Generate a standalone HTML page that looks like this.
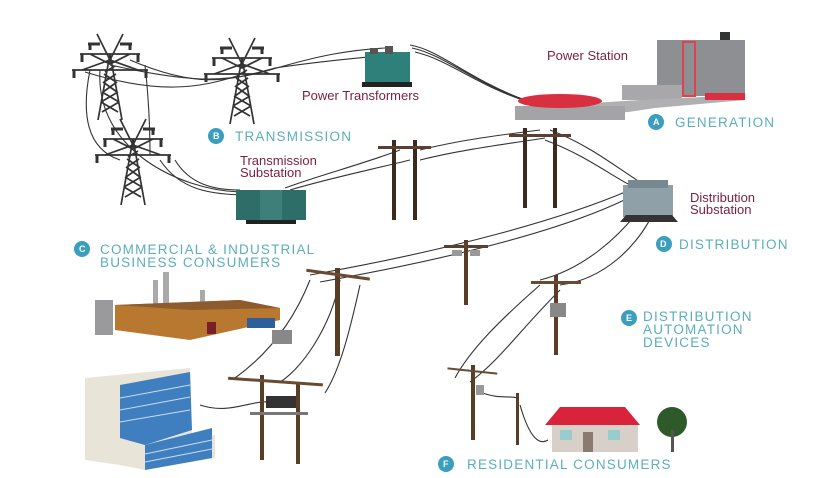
<!DOCTYPE html>
<html><head><meta charset="utf-8"><style>
html,body{margin:0;padding:0;background:#fff;}
svg{display:block;}
.lb{font-family:"Liberation Sans",sans-serif;fill:#7a1f3d;font-size:13px;}
.tl{font-family:"Liberation Sans",sans-serif;fill:#5aaebd;font-size:13.5px;letter-spacing:1.2px;}
.ct{font-family:"Liberation Sans",sans-serif;fill:#fff;font-size:9px;font-weight:bold;}
</style></head><body>
<svg width="819" height="478" viewBox="0 0 819 478" xmlns="http://www.w3.org/2000/svg">
<defs>
<g id="tower" stroke="#333" stroke-width="1.7" fill="none">
<path d="M-12,88 L0,22 L12,88 M-13,2 L0,28 L13,2 M-8,80 L9,70 M-9,70 L8,60 M-7,60 L7,50 M-6,50 L6,42 M8,80 L-9,70 M9,70 L-8,60 M7,60 L-7,50 M6,50 L-6,42 M-5,40 L5,34 M-30,22 L30,22 M-38,38 L38,38 M-5,30 L5,30 M-20,22 L0,32 L20,22 M-28,38 L0,28 L28,38"/>
<path d="M-28,22 v8 M28,22 v8 M-36,38 v8 M36,38 v8 M-22,12 h12 M10,12 h12 M-20,12 v6 M20,12 v6" stroke-width="3"/>
</g>
<g id="pole">
<rect x="-2" y="0" width="4" height="80" fill="#3b2a1e"/>
<rect x="-16" y="6" width="32" height="3" fill="#5a4030"/>
</g>
</defs>

<g stroke="#333" stroke-width="1.1" fill="none">
<path d="M110,65 C180,80 220,85 270,70 C320,55 350,50 385,48"/>
<path d="M130,60 C200,90 230,80 275,68 C330,60 360,58 390,55"/>
<path d="M85,72 C160,95 200,88 240,75"/>
<path d="M90,70 C80,120 90,150 120,160"/>
<path d="M145,65 C150,110 150,140 150,155"/>
<path d="M100,70 C95,150 180,190 240,192"/>
<path d="M175,160 C190,185 215,190 240,190"/>
<path d="M160,160 C180,190 210,195 250,195"/>
<path d="M410,45 C440,50 470,80 525,100"/>
<path d="M412,48 C445,55 475,84 530,102"/>
<path d="M415,52 C450,60 480,88 535,104"/>
<path d="M285,188 C320,175 360,165 400,150"/>
<path d="M290,190 C330,178 370,170 410,160"/>
<path d="M420,150 C460,140 500,135 540,130"/>
<path d="M420,160 C460,150 500,145 545,138"/>
<path d="M550,130 C590,145 620,170 640,182"/>
<path d="M545,140 C585,155 610,175 630,185"/>
<path d="M630,190 C560,220 450,250 310,275"/>
<path d="M640,192 C580,225 470,255 320,282"/>
<path d="M650,195 C620,240 580,270 540,280"/>
<path d="M660,198 C640,250 600,280 560,285"/>
<path d="M540,285 C500,320 470,350 455,378"/>
<path d="M560,290 C520,330 500,360 470,382"/>
<path d="M310,280 C290,330 260,360 235,378"/>
<path d="M340,280 C330,330 300,370 280,382"/>
<path d="M360,285 C350,330 340,370 325,393"/>
<path d="M200,405 C230,415 250,400 270,402"/>
<path d="M480,392 C500,400 510,395 517,398"/>
<path d="M520,405 C530,440 540,445 548,440"/>
</g>

<use href="#tower" x="110" y="32"/>
<use href="#tower" x="242" y="36"/>
<use href="#tower" x="133" y="117"/>

<rect x="365" y="52" width="45" height="30" fill="#2f7f7a"/>
<rect x="370" y="48" width="8" height="6" fill="#555"/><rect x="385" y="46" width="8" height="8" fill="#555"/>
<rect x="362" y="82" width="50" height="5" fill="#222"/>
<text class="lb" x="302" y="100">Power Transformers</text>

<text class="lb" x="547" y="60">Power Station</text>
<rect x="657" y="40" width="88" height="56" fill="#8e8f92"/>
<rect x="683" y="42" width="12" height="54" fill="none" stroke="#e04050" stroke-width="2"/>
<rect x="720" y="32" width="10" height="8" fill="#333"/>
<rect x="622" y="85" width="60" height="15" fill="#a8a8aa"/>
<polygon points="515,108 640,100 745,95 745,100 655,108 628,112 520,120" fill="#b0b0b2"/>
<rect x="515" y="106" width="110" height="14" fill="#a4a4a6"/>
<ellipse cx="560" cy="101" rx="42" ry="7" fill="#d83040"/>
<rect x="705" y="93" width="40" height="7" fill="#d83040"/>

<circle cx="656" cy="122" r="8" fill="#3a9fbf"/><text class="ct" x="653" y="125">A</text>
<text class="tl" x="675" y="127">GENERATION</text>
<circle cx="216" cy="136" r="8" fill="#3a9fbf"/><text class="ct" x="213" y="139">B</text>
<text class="tl" x="235" y="141">TRANSMISSION</text>
<text class="lb" x="240" y="165">Transmission</text>
<text class="lb" x="240" y="177">Substation</text>

<rect x="236" y="190" width="70" height="30" fill="#2e6e68"/>
<rect x="260" y="190" width="22" height="30" fill="#3d807a"/>
<rect x="246" y="220" width="50" height="4" fill="#222"/>

<g transform="translate(394,140)"><use href="#pole"/></g>
<g transform="translate(415,140)"><use href="#pole"/></g>
<g transform="translate(525,128)"><use href="#pole"/></g>
<g transform="translate(555,128)"><use href="#pole"/></g>

<rect x="623" y="185" width="50" height="32" fill="#8fa0a8"/>
<rect x="628" y="180" width="40" height="8" fill="#778890"/>
<polygon points="620,222 678,222 672,215 626,215" fill="#333"/>
<text class="lb" x="690" y="202">Distribution</text>
<text class="lb" x="690" y="214">Substation</text>
<circle cx="664" cy="244" r="8" fill="#3a9fbf"/><text class="ct" x="660" y="247">D</text>
<text class="tl" x="679" y="249">DISTRIBUTION</text>

<circle cx="82" cy="249" r="8" fill="#3a9fbf"/><text class="ct" x="79" y="252">C</text>
<text class="tl" x="100" y="254">COMMERCIAL &amp; INDUSTRIAL</text>
<text class="tl" x="100" y="267">BUSINESS CONSUMERS</text>

<g transform="translate(466,240)"><rect x="-2" y="0" width="4" height="65" fill="#5a3d25"/><rect x="-22" y="5" width="44" height="3" fill="#5a4030"/><rect x="-14" y="10" width="10" height="6" fill="#999"/><rect x="4" y="10" width="10" height="6" fill="#999"/></g>
<g transform="translate(337,268)"><rect x="-2" y="0" width="5" height="88" fill="#5a3d25"/><rect x="-30" y="5" width="64" height="3" fill="#6a4a30" transform="rotate(8)"/></g>
<g transform="translate(556,275)"><rect x="-2" y="0" width="4" height="80" fill="#5a3d25"/><rect x="-25" y="6" width="50" height="3" fill="#6a4a30"/><rect x="-6" y="28" width="16" height="14" fill="#888"/></g>
<g transform="translate(473,365)"><rect x="-2" y="0" width="4" height="75" fill="#5a3d25"/><rect x="-25" y="5" width="50" height="2" fill="#6a4a30" transform="rotate(6)"/><rect x="3" y="20" width="8" height="10" fill="#999"/></g>
<rect x="516" y="393" width="3" height="52" fill="#5a3d25"/>
<g transform="translate(262,375)"><rect x="-2" y="0" width="4" height="85" fill="#5a3d25"/></g>
<g transform="translate(298,382)"><rect x="-2" y="0" width="4" height="82" fill="#5a3d25"/></g>
<rect x="228" y="380" width="95" height="3" fill="#6a4a30" transform="rotate(4 275 381)"/>
<rect x="266" y="396" width="30" height="12" fill="#333"/>
<rect x="250" y="412" width="58" height="3" fill="#777"/>

<rect x="95" y="300" width="18" height="35" fill="#9a9a9c"/>
<rect x="153" y="280" width="5" height="25" fill="#aaa"/><rect x="163" y="272" width="6" height="32" fill="#aaa"/><rect x="200" y="290" width="5" height="15" fill="#aaa"/>
<polygon points="115,305 240,300 280,308 280,320 190,340 115,330" fill="#b9782f"/>
<polygon points="115,305 240,300 280,308 190,310" fill="#8c5b2e"/>
<rect x="207" y="322" width="9" height="12" fill="#7a1f2a"/>
<rect x="247" y="318" width="28" height="10" fill="#2f5f9a"/>
<rect x="272" y="330" width="20" height="14" fill="#888"/>

<polygon points="85,378 190,368 192,440 215,435 215,458 145,470 120,465 85,460" fill="#e9e4d8"/>
<polygon points="120,385 190,372 192,430 145,445 120,438" fill="#3f7fc0"/>
<polygon points="145,445 212,428 212,458 145,470" fill="#3f7fc0"/>
<g stroke="#cde" stroke-width="1"><path d="M120,398 L190,385 M120,410 L190,397 M120,422 L190,410 M145,454 L212,440 M145,462 L212,449"/></g>

<rect x="552" y="425" width="86" height="27" fill="#d8cfc8"/>
<polygon points="545,425 560,407 625,407 640,425" fill="#d8233a"/>
<rect x="560" y="430" width="12" height="10" fill="#9cc"/><rect x="608" y="430" width="12" height="10" fill="#9cc"/><rect x="583" y="432" width="10" height="20" fill="#8a7a70"/>
<circle cx="672" cy="422" r="15" fill="#2e5a2a"/><rect x="671" y="430" width="3" height="22" fill="#555"/>

<circle cx="629" cy="318" r="8" fill="#3a9fbf"/><text class="ct" x="626" y="321">E</text>
<text class="tl" x="643" y="321">DISTRIBUTION</text>
<text class="tl" x="643" y="334">AUTOMATION</text>
<text class="tl" x="643" y="347">DEVICES</text>
<circle cx="446" cy="464" r="8" fill="#3a9fbf"/><text class="ct" x="443" y="467">F</text>
<text class="tl" x="467" y="469">RESIDENTIAL CONSUMERS</text>
</svg>
</body></html>
